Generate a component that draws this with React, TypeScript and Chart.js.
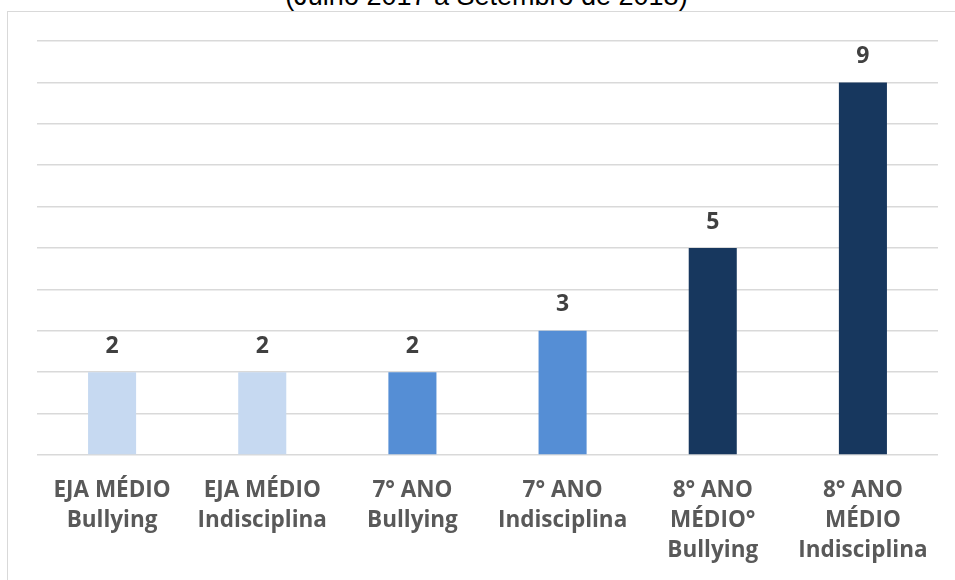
import React, { useEffect, useRef } from "react";
import { Chart, registerables } from "chart.js";

Chart.register(...registerables);

const titleText = "(Julho 2017 a Setembro de 2018)";
const categories: string[][] = [
  ["EJA MÉDIO", "Bullying"],
  ["EJA MÉDIO", "Indisciplina"],
  ["7° ANO", "Bullying"],
  ["7° ANO", "Indisciplina"],
  ["8° ANO", "MÉDIO°", "Bullying"],
  ["8° ANO", "MÉDIO", "Indisciplina"],
];
const values = [2, 2, 2, 3, 5, 9];
const barColors = ["#C6D9F1", "#C6D9F1", "#558ED5", "#558ED5", "#17375E", "#17375E"];

const FONT = "'Open Sans', sans-serif";

const valueLabels = {
  id: "valueLabels",
  afterDatasetsDraw(chart: any) {
    const ctx = chart.ctx;
    const meta = chart.getDatasetMeta(0);
    ctx.save();
    ctx.fillStyle = "#404040";
    ctx.font = `bold 23px ${FONT}`;
    ctx.textAlign = "center";
    ctx.textBaseline = "middle";
    meta.data.forEach((bar: any, i: number) => {
      ctx.fillText(String(chart.data.datasets[0].data[i]), bar.x, bar.y - 26);
    });
    ctx.restore();
  },
};

export default function App() {
  const ref = useRef<HTMLCanvasElement>(null);
  useEffect(() => {
    if (!ref.current) return;
    const chart = new Chart(ref.current, {
      type: "bar",
      data: {
        labels: categories,
        datasets: [
          {
            data: values,
            backgroundColor: barColors,
            barPercentage: 0.32,
            categoryPercentage: 1,
          },
        ],
      },
      options: {
        animation: false,
        responsive: false,
        maintainAspectRatio: false,
        layout: { padding: { left: 37, right: 17, top: 41, bottom: 0 } },
        plugins: { legend: { display: false }, tooltip: { enabled: false }, title: { display: false } },
        scales: {
          x: {
            grid: { display: false, drawTicks: false },
            border: { display: false },
            ticks: {
              color: "#595959",
              font: { family: FONT, size: 22.5, weight: "bold", lineHeight: 1.333 },
              padding: 21,
              maxRotation: 0,
              autoSkip: false,
            },
            afterFit: (axis: any) => {
              axis.height = 125;
            },
          },
          y: {
            min: 0,
            max: 10,
            ticks: { display: false, stepSize: 1 },
            grid: { color: "#D9D9D9", lineWidth: 1.5, drawTicks: false },
            border: { display: false },
            afterFit: (axis: any) => {
              axis.width = 0;
            },
          },
        },
      },
      plugins: [valueLabels],
    });
    return () => chart.destroy();
  }, []);

  return (
    <div style={{ position: "fixed", left: 0, top: 0, width: 955, height: 580, overflow: "hidden", background: "#fff" }}>
      <div
        style={{
          position: "absolute",
          left: 7,
          top: 11,
          width: 1100,
          height: 1000,
          border: "1.5px solid #D9D9D9",
        }}
      />
      <div
        style={{
          position: "absolute",
          left: 0,
          width: 973,
          top: -17,
          textAlign: "center",
          fontFamily: "'Liberation Sans', Arial, sans-serif",
          fontSize: 27,
          lineHeight: "26px",
          color: "#000",
          whiteSpace: "nowrap",
        }}
      >
        {titleText}
      </div>
      <canvas ref={ref} width={955} height={580} style={{ position: "absolute", left: 0, top: 0 }} />
    </div>
  );
}
